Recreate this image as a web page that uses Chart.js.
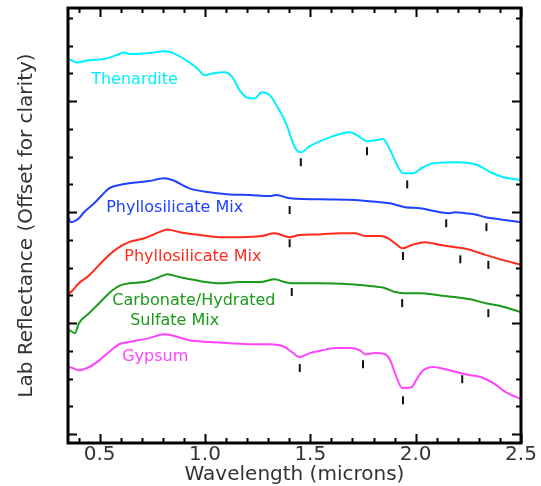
<!DOCTYPE html>
<html>
<head>
<meta charset="utf-8">
<script src="https://cdn.jsdelivr.net/npm/chart.js@4/dist/chart.umd.min.js"></script>
<style>
  html, body { margin: 0; padding: 0; background: #fff; }
  #wrap { width: 541px; height: 486px; }
</style>
</head>
<body>
<div id="wrap"><canvas id="specChart" width="541" height="486"></canvas></div>
<script>
// spectra: [wavelength (microns), offset reflectance]
var thenardite = [[0.35,0.677],[0.364,0.674],[0.392,0.670],[0.45,0.674],[0.521,0.676],[0.593,0.685],[0.617,0.688],[0.64,0.685],
  [0.736,0.687],[0.807,0.690],[0.84,0.688],[0.926,0.670],[0.964,0.659],[0.998,0.647],[1.036,0.650],[1.093,0.652],[1.131,0.643],
  [1.164,0.620],[1.198,0.607],[1.236,0.605],[1.269,0.616],[1.307,0.611],[1.345,0.589],[1.388,0.557],[1.426,0.517],[1.455,0.508],
  [1.498,0.519],[1.579,0.533],[1.688,0.544],[1.721,0.539],[1.769,0.528],[1.817,0.530],[1.845,0.532],[1.879,0.512],[1.912,0.485],
  [1.94,0.470],[1.983,0.470],[2.036,0.481],[2.083,0.488],[2.198,0.490],[2.293,0.485],[2.355,0.472],[2.417,0.463],[2.5,0.458]];

var phylloBlue = [[0.35,0.391],[0.364,0.382],[0.402,0.389],[0.426,0.400],[0.474,0.416],[0.512,0.431],[0.545,0.443],[0.593,0.449],
  [0.64,0.452],[0.736,0.456],[0.807,0.461],[0.845,0.458],[0.926,0.443],[1.021,0.436],[1.117,0.432],[1.212,0.431],[1.307,0.429],
  [1.34,0.431],[1.402,0.425],[1.593,0.423],[1.712,0.422],[1.831,0.418],[1.879,0.416],[1.95,0.409],[2.021,0.407],[2.117,0.400],
  [2.155,0.398],[2.188,0.400],[2.236,0.398],[2.283,0.396],[2.331,0.391],[2.402,0.387],[2.5,0.382]];

var phylloRed = [[0.35,0.254],[0.364,0.256],[0.402,0.272],[0.45,0.286],[0.498,0.305],[0.545,0.323],[0.593,0.337],[0.64,0.346],
  [0.712,0.353],[0.783,0.364],[0.821,0.369],[0.879,0.364],[0.974,0.359],[1.069,0.355],[1.164,0.355],[1.269,0.357],[1.331,0.362],
  [1.402,0.355],[1.45,0.359],[1.545,0.360],[1.64,0.362],[1.712,0.362],[1.76,0.357],[1.831,0.357],[1.869,0.353],[1.902,0.344],
  [1.94,0.335],[1.983,0.341],[2.045,0.346],[2.117,0.341],[2.188,0.337],[2.226,0.335],[2.26,0.332],[2.331,0.323],[2.402,0.315],[2.5,0.305]];

var carbonate = [[0.35,0.178],[0.355,0.187],[0.383,0.182],[0.402,0.200],[0.45,0.218],[0.498,0.236],[0.545,0.254],[0.593,0.267],
  [0.64,0.272],[0.712,0.274],[0.783,0.283],[0.821,0.288],[0.879,0.283],[0.974,0.276],[1.069,0.272],[1.164,0.274],[1.26,0.274],
  [1.331,0.279],[1.379,0.274],[1.412,0.272],[1.545,0.272],[1.688,0.270],[1.783,0.267],[1.855,0.263],[1.902,0.256],[1.94,0.254],
  [2.021,0.254],[2.117,0.250],[2.188,0.247],[2.26,0.243],[2.331,0.236],[2.402,0.231],[2.5,0.220]];

var gypsum = [[0.35,0.115],[0.355,0.121],[0.402,0.115],[0.45,0.121],[0.498,0.133],[0.545,0.148],[0.593,0.162],[0.64,0.166],
  [0.736,0.173],[0.807,0.180],[0.855,0.177],[0.926,0.169],[1.021,0.166],[1.117,0.164],[1.212,0.162],[1.307,0.162],[1.379,0.157],
  [1.412,0.148],[1.45,0.139],[1.498,0.146],[1.545,0.150],[1.617,0.155],[1.688,0.155],[1.736,0.151],[1.76,0.144],[1.807,0.146],
  [1.855,0.144],[1.879,0.133],[1.902,0.110],[1.936,0.083],[1.955,0.083],[1.983,0.085],[2.002,0.097],[2.036,0.115],[2.083,0.121],
  [2.14,0.117],[2.212,0.110],[2.26,0.106],[2.307,0.103],[2.369,0.092],[2.426,0.076],[2.5,0.063]];

// absorption band markers
var bandMarks = [[1.455,0.490],[1.769,0.510],[1.960,0.450],
  [1.402,0.404],[2.145,0.380],[2.336,0.373],
  [1.402,0.344],[1.940,0.321],[2.212,0.315],[2.345,0.305],
  [1.412,0.256],[1.936,0.236],[2.345,0.218],
  [1.450,0.119],[1.750,0.126],[1.940,0.061],[2.221,0.099]];

var seriesNames = ["Thenardite", "Phyllosilicate Mix", "Phyllosilicate Mix", "Carbonate/Hydrated", "Gypsum"];
var seriesColors = ["#00f0ff", "#2040ff", "#ff2a1a", "#1a9a1a", "#ff44ff"];

// in-plot labels: text, wavelength of left edge, reflectance of centre
var labelText = ["Thenardite", "Phyllosilicate Mix", "Phyllosilicate Mix", "Carbonate/Hydrated", "Sulfate Mix", "Gypsum"];
var labelX = [0.460, 0.531, 0.617, 0.560, 0.645, 0.607];
var labelY = [0.638, 0.407, 0.319, 0.241, 0.204, 0.139];
var labelColor = ["#00f0ff", "#2040ff", "#ff2a1a", "#1a9a1a", "#1a9a1a", "#ff44ff"];

var xTickLabels = [0.5, 1.0, 1.5, 2.0, 2.5];

function toXY(arr) {
  return arr.map(function (p) { return { x: p[0], y: p[1] }; });
}

var datasets = [thenardite, phylloBlue, phylloRed, carbonate, gypsum].map(function (s, i) {
  return {
    label: seriesNames[i],
    data: toXY(s),
    borderColor: seriesColors[i],
    borderWidth: 2,
    pointRadius: 0,
    cubicInterpolationMode: "monotone",
    fill: false
  };
});
datasets.push({
  label: "bands",
  data: toXY(bandMarks),
  showLine: false,
  pointStyle: "line",
  rotation: 90,
  pointRadius: 4,
  pointBorderWidth: 2,
  pointBorderColor: "#111",
  pointBackgroundColor: "#111"
});

// IDL style frame with inward ticks, plus the curve labels
var framePlugin = {
  id: "frame",
  afterDatasetsDraw: function (chart) {
    var ctx = chart.ctx, a = chart.chartArea;
    var xs = chart.scales.x, ys = chart.scales.y;
    ctx.save();
    ctx.strokeStyle = "#000";
    ctx.lineWidth = 2;
    var v, px, len;
    for (v = 4; v <= 25; v++) {
      px = Math.round(xs.getPixelForValue(v / 10)) + 0.5;
      len = (v % 5 === 0) ? 9 : 5;
      ctx.beginPath();
      ctx.moveTo(px, a.bottom); ctx.lineTo(px, a.bottom - len);
      ctx.moveTo(px, a.top); ctx.lineTo(px, a.top + len);
      ctx.stroke();
    }
    for (v = 0; v <= 15; v++) {
      px = Math.round(ys.getPixelForValue(v * 0.05)) + 0.5;
      len = (v % 4 === 0) ? 9 : 5;
      ctx.beginPath();
      ctx.moveTo(a.left, px); ctx.lineTo(a.left + len, px);
      ctx.moveTo(a.right, px); ctx.lineTo(a.right - len, px);
      ctx.stroke();
    }
    ctx.lineWidth = 3;
    ctx.strokeRect(a.left, a.top, a.right - a.left, a.bottom - a.top);

    ctx.font = "16px 'DejaVu Sans'";
    ctx.textAlign = "left";
    ctx.textBaseline = "middle";
    for (var i = 0; i < labelText.length; i++) {
      ctx.fillStyle = labelColor[i];
      ctx.fillText(labelText[i], xs.getPixelForValue(labelX[i]), ys.getPixelForValue(labelY[i]));
    }
    ctx.restore();
  }
};

new Chart("specChart", {
  type: "line",
  data: { datasets: datasets },
  options: {
    responsive: false,
    animation: false,
    layout: { padding: { left: 10, right: 20, top: 8, bottom: 0 } },
    plugins: { legend: { display: false }, tooltip: { enabled: false } },
    scales: {
      x: {
        type: "linear",
        min: 0.35,
        max: 2.5,
        afterBuildTicks: function (scale) {
          scale.ticks = xTickLabels.map(function (t) { return { value: t }; });
        },
        afterFit: function (scale) { scale.height = 43; },
        ticks: {
          padding: 2,
          color: "#333",
          font: { family: "'DejaVu Sans'", size: 20, lineHeight: 1 },
          maxRotation: 0,
          callback: function (v) { return v.toFixed(1); }
        },
        grid: { display: false, drawTicks: false },
        border: { display: false },
        title: {
          display: true,
          text: "Wavelength (microns)",
          color: "#333",
          font: { family: "'DejaVu Sans'", size: 20, lineHeight: 1.1 },
          padding: { top: 0, bottom: 0 }
        }
      },
      y: {
        type: "linear",
        min: -0.016,
        max: 0.768,
        afterFit: function (scale) { scale.width = 58; },
        ticks: { display: false },
        grid: { display: false, drawTicks: false },
        border: { display: false },
        title: {
          display: true,
          text: "Lab Reflectance (Offset for clarity)",
          color: "#333",
          font: { family: "'DejaVu Sans'", size: 20, lineHeight: 1 },
          padding: { top: 7, bottom: 31 }
        }
      }
    }
  },
  plugins: [framePlugin]
});
</script>
</body>
</html>
